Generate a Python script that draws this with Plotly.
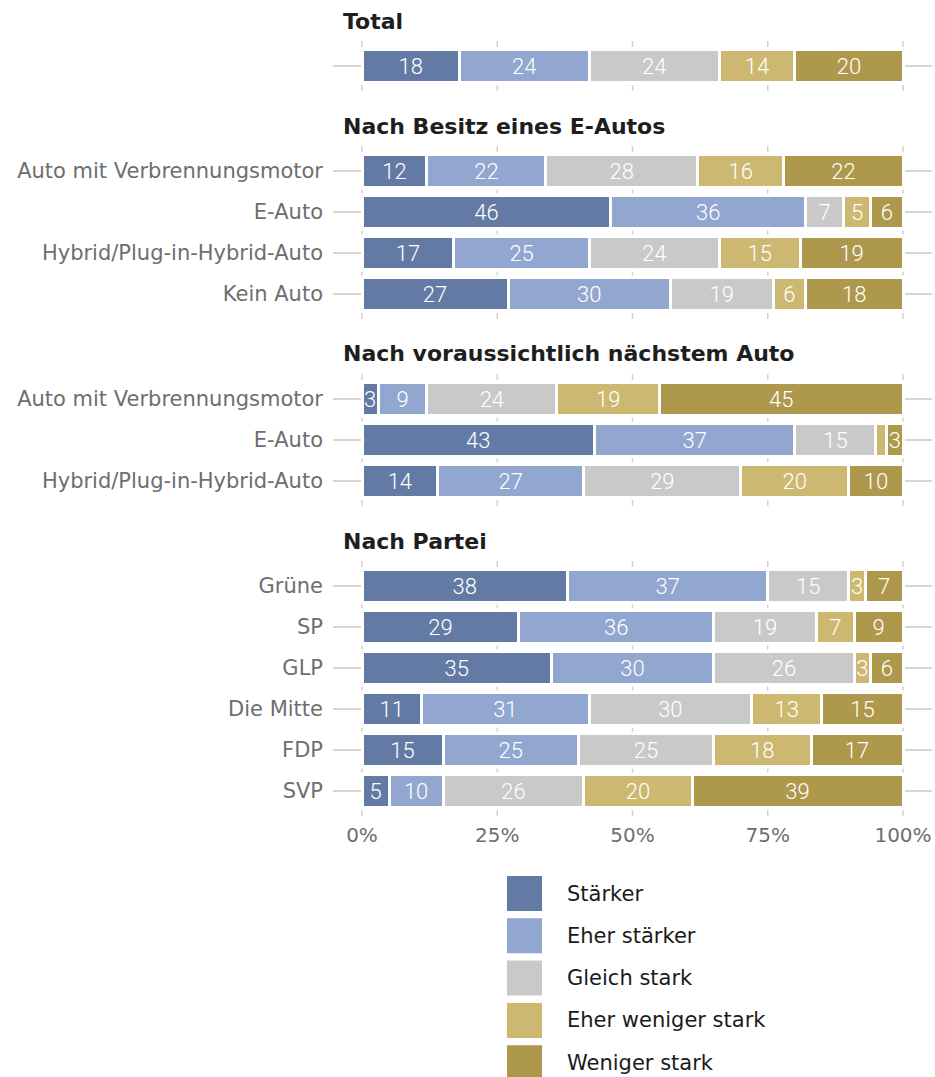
import plotly.graph_objects as go

# ---------------- data ----------------
series = ["Stärker", "Eher stärker", "Gleich stark", "Eher weniger stark", "Weniger stark"]
colors = ["#637ba4", "#91a7cf", "#c9c9c9", "#cdb871", "#ae984c"]

groups = ["Total", "Nach Besitz eines E-Autos", "Nach voraussichtlich nächstem Auto", "Nach Partei"]
group_rows = [
    [""],
    ["Auto mit Verbrennungsmotor", "E-Auto", "Hybrid/Plug-in-Hybrid-Auto", "Kein Auto"],
    ["Auto mit Verbrennungsmotor", "E-Auto", "Hybrid/Plug-in-Hybrid-Auto"],
    ["Grüne", "SP", "GLP", "Die Mitte", "FDP", "SVP"],
]

staerker      = [18, 12, 46, 17, 27, 3, 43, 14, 38, 29, 35, 11, 15, 5]
eher_staerker = [24, 22, 36, 25, 30, 9, 37, 27, 37, 36, 30, 31, 25, 10]
gleich_stark  = [24, 28, 7, 24, 19, 24, 15, 29, 15, 19, 26, 30, 25, 26]
eher_weniger  = [14, 16, 5, 15, 6, 19, 2, 20, 3, 7, 3, 13, 18, 20]
weniger_stark = [20, 22, 6, 19, 18, 45, 3, 10, 7, 9, 6, 15, 17, 39]
values = [staerker, eher_staerker, gleich_stark, eher_weniger, weniger_stark]

x_ticks = [0, 25, 50, 75, 100]
x_ticktext = ["0%", "25%", "50%", "75%", "100%"]

# ---------------- layout geometry (page pixels; body margin removed below) ----------------
W, H = 935, 1077
PL, PR, PT, PB = 333, 932, 41, 817   # plot area in pixels
ROWPX = 41.0
GAP = 105.0 / ROWPX
X0PX, X100PX = 362, 903
xscale = (X100PX - X0PX) / 100.0
x_range = [(PL - X0PX) / xscale, (PR - X0PX) / xscale]

positions, labels, group_first, group_last = [], [], [], []
for gi, rows in enumerate(group_rows):
    p = 0.0 if gi == 0 else positions[-1] + GAP
    group_first.append(p)
    for j, r in enumerate(rows):
        positions.append(p + j)
        labels.append(r)
    group_last.append(positions[-1])

y_top = -25 / ROWPX
y_range = [positions[-1] + 26 / ROWPX, y_top]  # reversed

LBL = "DejaVu Sans"
NUM = "Roboto"

fig = go.Figure()
for name, col, vals in zip(series, colors, values):
    fig.add_trace(go.Bar(
        orientation="h", name=name, x=vals, y=positions,
        width=33 / ROWPX,
        marker=dict(color=col, line=dict(color="white", width=3)),
        text=[str(v) if v >= 3 else "" for v in vals],
        textposition="inside", insidetextanchor="middle", textangle=0,
        constraintext="none",
        textfont=dict(color="white", size=22, family=NUM, weight=300),
        hoverinfo="skip", showlegend=False,
    ))

shapes = []
gc = "#d2d2d2"
for gf, gl in zip(group_first, group_last):
    segs = [(gf - 25 / ROWPX, gf - 19 / ROWPX), (gl + 19 / ROWPX, gl + 25 / ROWPX)]
    k = gf
    while k < gl - 0.01:
        m = k + 0.5
        segs.append((m - 2 / ROWPX, m + 2 / ROWPX))
        k += 1
    for xv in x_ticks:
        for a, b in segs:
            shapes.append(dict(type="line", xref="x", yref="y", x0=xv, x1=xv, y0=a, y1=b,
                               line=dict(color=gc, width=1.5), layer="above"))


def py(pix):
    return (PB - pix) / (PB - PT)


def px(pix):
    return (pix - PL) / (PR - PL)


def row_to_pix(r):
    return PT + (r - y_top) * ROWPX


annotations = []
for gname, gf in zip(groups, group_first):
    annotations.append(dict(text="<b>" + gname + "</b>", xref="paper", yref="paper",
                            x=px(341), y=py(row_to_pix(gf) - 45),
                            xanchor="left", yanchor="middle", showarrow=False,
                            font=dict(size=22, color="#1e1e1e", family=LBL)))

for i, (name, col) in enumerate(zip(series, colors)):
    cy = 893.5 + i * 42.3
    shapes.append(dict(type="rect", xref="paper", yref="paper",
                       x0=px(507), x1=px(542), y0=py(cy - 17.5), y1=py(cy + 17.5),
                       fillcolor=col, line=dict(width=0), layer="above"))
    annotations.append(dict(text=name, xref="paper", yref="paper", x=px(565), y=py(cy),
                            xanchor="left", yanchor="middle", showarrow=False,
                            font=dict(size=21, color="#1a1a1a", family=LBL)))

fig.update_layout(
    width=W, height=H, barmode="stack", bargap=0,
    margin=dict(l=PL, r=W - PR, t=PT, b=H - PB, pad=0, autoexpand=False),
    plot_bgcolor="white", paper_bgcolor="white",
    font=dict(family=LBL, size=21, color="#6e6e6e"),
    shapes=shapes, annotations=annotations, showlegend=False,
    xaxis=dict(range=x_range, tickvals=x_ticks, ticktext=x_ticktext, showgrid=False,
               zeroline=False, showline=False, ticks="", fixedrange=True,
               ticklabeloverflow="allow", automargin=False,
               tickfont=dict(size=20, color="#6e6e6e", family=LBL), ticklabelstandoff=4),
    yaxis=dict(range=y_range, tickvals=positions, ticktext=labels, showgrid=True,
               gridcolor="#d6d6d6", gridwidth=1.5, zeroline=False, showline=False,
               ticks="", fixedrange=True, automargin=False,
               tickfont=dict(size=21, color="#6e6e6e", family=LBL),
               ticklabelstandoff=9),
)

fig.write_html(
    "out.html",
    config={"displayModeBar": False, "staticPlot": True},
    post_script="document.body.style.margin='0';document.body.style.overflow='hidden';",
)
